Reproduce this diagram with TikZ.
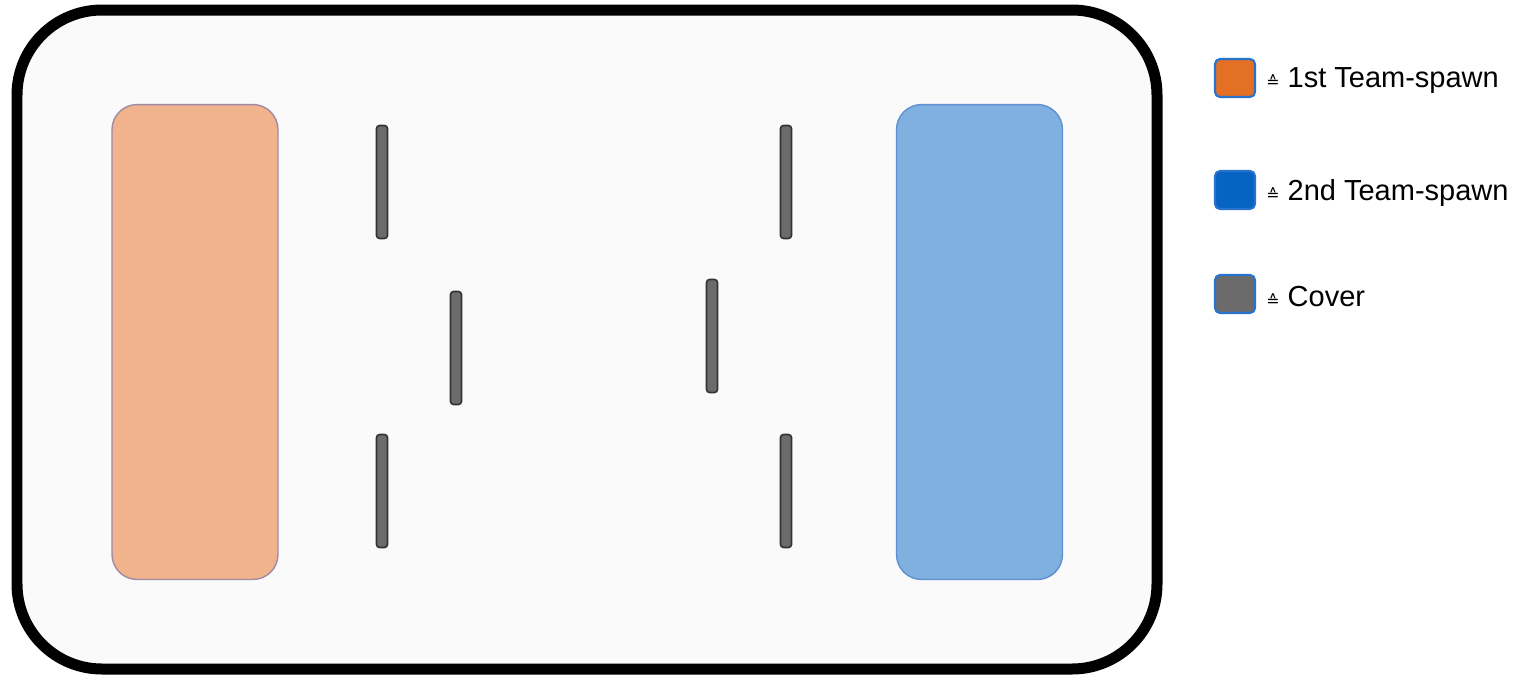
\documentclass[tikz,border=0pt]{standalone}
\usepackage{fontspec}
\setmainfont{Liberation Sans}
\newfontfamily\symfont{DejaVu Sans}
\usetikzlibrary{positioning}
\definecolor{hintergrund}{HTML}{FAFAFA}
\definecolor{orangehell}{HTML}{F0B38B}
\definecolor{orangerand}{HTML}{A08AA6}
\definecolor{blauhell}{HTML}{7FB0E0}
\definecolor{blaurand}{HTML}{5E90D2}
\definecolor{orangevoll}{HTML}{E37025}
\definecolor{blauvoll}{HTML}{0563C1}
\definecolor{deckung}{HTML}{6B6B6B}
\definecolor{legrand}{HTML}{2673D0}

\tikzset{
  spawnbox/.style={rounded corners=0.5cm,line width=0.8pt,minimum width=3.32cm,minimum height=9.5cm,inner sep=0pt},
  cover/.style={fill=deckung,draw=black!80,line width=0.9pt,rounded corners=0.6mm,minimum width=0.22cm,minimum height=2.26cm,inner sep=0pt},
  legbox/.style={draw=legrand,line width=1.2pt,rounded corners=1mm,minimum width=0.8cm,minimum height=0.76cm,inner sep=0pt},
  legtext/.style={right=2mm of #1,yshift=-0.6mm,inner sep=0pt,font=\fontsize{16.5}{20}\selectfont}
}

\begin{document}
\begin{tikzpicture}[x=0.02cm,y=-0.02cm]
\useasboundingbox (0,0) rectangle (1522,680);
% Spielfeld
\draw[fill=hintergrund,line width=0.22cm,rounded corners=1.7cm] (17,10) rectangle (1157,669);
% Spawns
\node[spawnbox,fill=orangehell,draw=orangerand] (spawnA) at (195,342) {};
\node[spawnbox,fill=blauhell,draw=blaurand] (spawnB) at (979.5,342) {};
% Deckungen
\node[cover] (coverA) at (382,182) {};
\node[cover] (coverB) at (456,348) {};
\node[cover] (coverC) at (382,491) {};
\node[cover] (coverD) at (786,182) {};
\node[cover] (coverE) at (712,336) {};
\node[cover] (coverF) at (786,491) {};
% Legende
\node[legbox,fill=orangevoll] (legA) at (1235,78) {};
\node[legbox,fill=blauvoll] (legB) at (1235,190) {};
\node[legbox,fill=deckung] (legC) at (1235,294) {};
\node[legtext=legA] (txtA) {{\symfont\small ≙} 1st Team-spawn};
\node[legtext=legB] (txtB) {{\symfont\small ≙} 2nd Team-spawn};
\node[legtext=legC] (txtC) {{\symfont\small ≙} Cover};
\end{tikzpicture}
\end{document}
